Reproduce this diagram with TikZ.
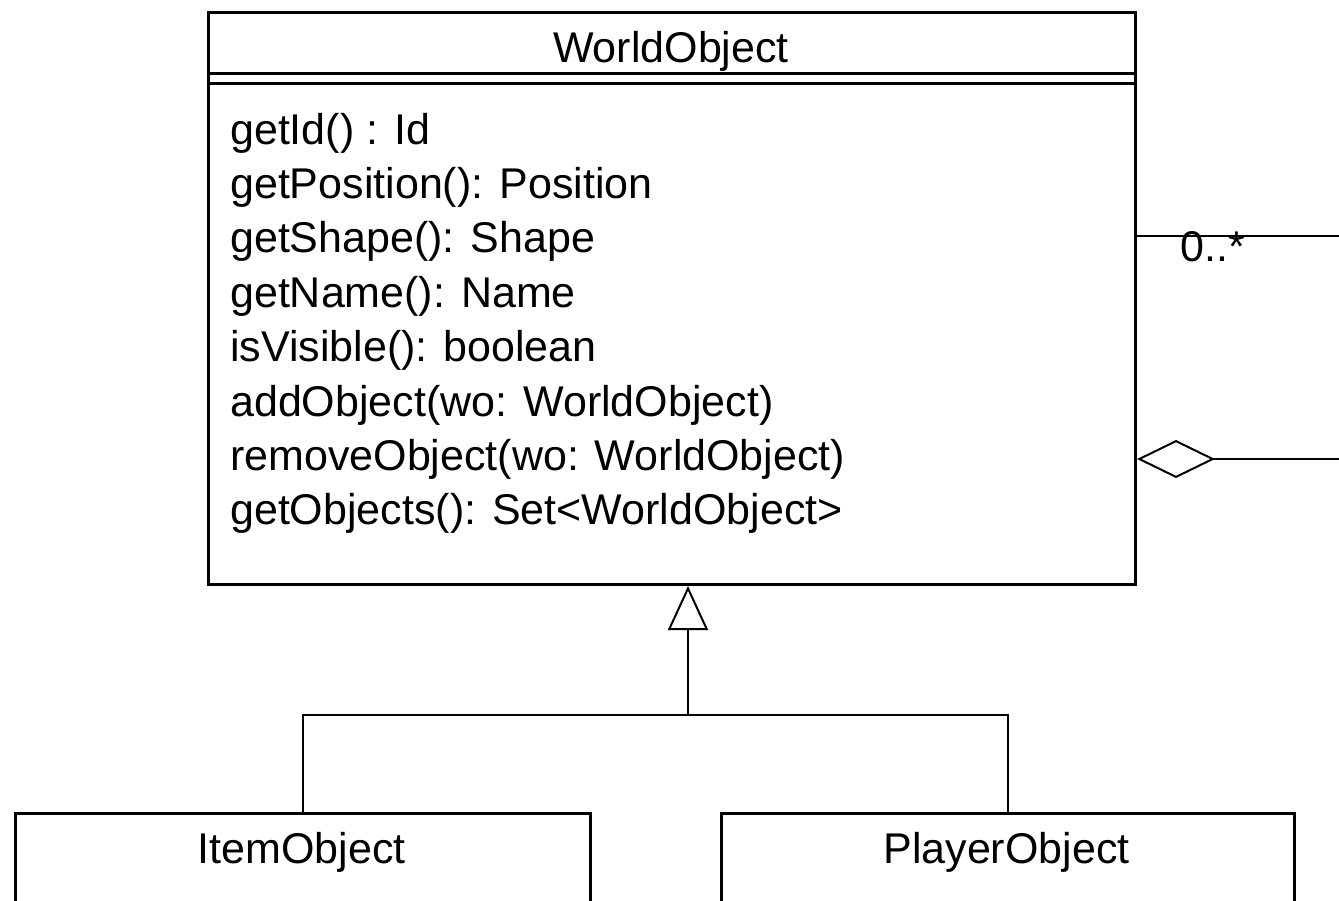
\documentclass[tikz,border=0pt]{standalone}
\usepackage{fontspec}
\setmainfont{Liberation Sans}
\usetikzlibrary{arrows.meta}
\begin{document}
\begin{tikzpicture}[x=1pt,y=-1pt,
  umlbox/.style={draw=black, line width=3pt, anchor=north west, inner sep=0pt},
  conn/.style={draw=black, line width=2pt},
  txt/.style={font=\fontsize{43}{50}\selectfont, inner sep=0pt, anchor=base west},
  txtc/.style={font=\fontsize{43}{50}\selectfont, inner sep=0pt, anchor=base}]
\useasboundingbox (0,0) rectangle (1339,900);
\clip (0,0) rectangle (1339,900);
% WorldObject class
\node[umlbox, minimum width=927pt, minimum height=572pt] (wo) at (207,11) {};
\node[txtc] (wotitle) at (671,62) {WorldObject};
\draw[line width=3pt] (wo.west |- 0,73) coordinate (s1a) -- (wo.east |- 0,73) coordinate (s1b);
\draw[line width=3pt] (wo.west |- 0,83) coordinate (s2a) -- (wo.east |- 0,83) coordinate (s2b);
\foreach \t [count=\i from 0] in {getId() : Id, getPosition(): Position, getShape(): Shape, getName(): Name, isVisible(): boolean, addObject(wo: WorldObject), removeObject(wo: WorldObject), getObjects(): Set<WorldObject>}
  \node[txt] (m\i) at (230,{144+54.4*\i}) {\t};
% Subclasses
\node[umlbox, minimum width=575pt, minimum height=150pt] (item) at (14,812) {};
\node[txtc] (itemt) at (301.5,863) {ItemObject};
\node[umlbox, minimum width=573pt, minimum height=150pt] (player) at (720,812) {};
\node[txtc] (playert) at (1006.5,863) {PlayerObject};
% Generalization
\coordinate (j) at (688,715);
\draw[conn, -{Triangle[open, length=44pt, width=40pt, line width=2pt]}] (j) -- (j |- wo.south);
\draw[conn] (item.north) |- (j) -| (player.north);
% Association 0..*
\coordinate (r1) at (1339,236);
\draw[conn] (r1) -- (r1 -| wo.east);
\node[txt] (mult) at (1180,261) {0..*};
% Aggregation
\coordinate (r2) at (1339,459);
\draw[conn, -{Diamond[open, length=78pt, width=38pt, line width=2pt]}] (r2) -- (r2 -| wo.east);
\end{tikzpicture}
\end{document}
